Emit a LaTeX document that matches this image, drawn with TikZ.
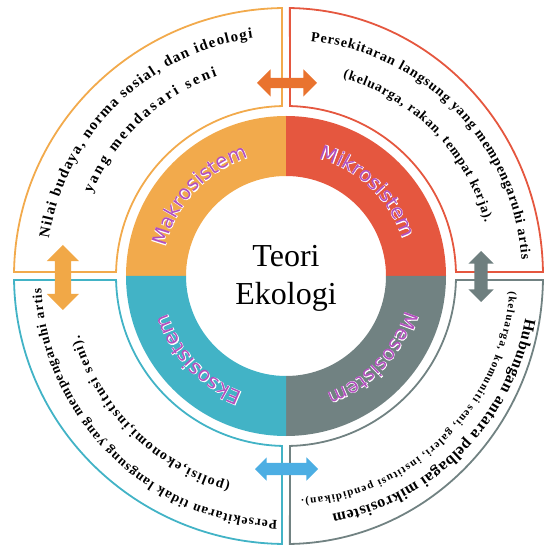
\documentclass[tikz,border=0pt]{standalone}
\usepackage{fontspec}
\setmainfont{Liberation Serif}
\newfontfamily\ringfont{DejaVu Sans}
\newfontfamily\ringglow[FakeBold=4]{DejaVu Sans}
\usepackage{tikz}
\usetikzlibrary{decorations.text, shapes.arrows}
\definecolor{makro}{HTML}{F2AA4C}
\definecolor{mikro}{HTML}{E5573F}
\definecolor{meso}{HTML}{718282}
\definecolor{ekso}{HTML}{42B3C6}
\definecolor{arrtop}{HTML}{E9732F}
\definecolor{arrleft}{HTML}{F1A847}
\definecolor{arrright}{HTML}{6E7F7F}
\definecolor{arrbot}{HTML}{4CAEE3}
\definecolor{labelpurple}{HTML}{B24FBE}
\newcommand{\bigline}[1]{\bfseries\fontsize{#1}{#1}\selectfont}

\begin{document}
\begin{tikzpicture}[x=1pt, y=1pt,
    quadbox/.style={line width=1.8pt},
    twoway/.style={double arrow, inner xsep=0pt, draw=none},
    curved/.style={decorate, decoration={text along path, text align={fit to path}, text={#1}}},
    ringglowlabel/.style={decorate, decoration={text along path, text align=center, text color=white,
        text={|\ringglow\fontsize{20}{20}\selectfont|#1}}},
    ringlabel/.style={decorate, decoration={text along path, text align=center, text color=labelpurple,
        text={|\ringfont\fontsize{20}{20}\selectfont|#1}}}]
    \useasboundingbox (-286,-272) rectangle (258,276);
    % inner ring
    \foreach \a/\col in {90/makro, 0/mikro, -90/meso, 180/ekso}
        \fill[\col] (\a:100) -- (\a:160) arc[start angle=\a, end angle={\a+90}, radius=160]
            -- ({\a+90}:100) arc[start angle={\a+90}, end angle=\a, radius=100] -- cycle;
    \node[font=\fontsize{32}{38}\selectfont, align=center] (teori) at (0,-2) {Teori\\Ekologi};
    % outer quadrants
    \foreach \a/\X/\col in {90/272/makro, 0/257/mikro, -90/257/meso, 180/272/ekso}
        \draw[quadbox, \col] ({\a+1.35}:170) -- ({\a+0.86}:{\X} and 268)
            arc[start angle={\a+0.86}, end angle={\a+89.14}, x radius=\X, y radius=268]
            -- ({\a+88.65}:170) arc[start angle={\a+88.65}, end angle={\a+1.35}, radius=170] -- cycle;
    % ring labels (white rim first)
    \path[ringglowlabel={Makrosistem}] (180:124) arc[start angle=180, end angle=94, radius=124];
    \path[ringlabel={Makrosistem}] (180:124) arc[start angle=180, end angle=94, radius=124];
    \path[ringglowlabel={Mikrosistem}] (91:122) arc[start angle=91, end angle=1, radius=122];
    \path[ringlabel={Mikrosistem}] (91:122) arc[start angle=91, end angle=1, radius=122];
    \path[ringglowlabel={Mesosistem}] (0:124) arc[start angle=0, end angle=-87, radius=124];
    \path[ringlabel={Mesosistem}] (0:124) arc[start angle=0, end angle=-87, radius=124];
    \path[ringglowlabel={Eksosistem}] (-93:124) arc[start angle=-93, end angle=-180, radius=124];
    \path[ringlabel={Eksosistem}] (-93:124) arc[start angle=-93, end angle=-180, radius=124];
    % texts of the quadrants
    \path[curved={|\bigline{15}|Nilai budaya, norma sosial, dan ideologi}] (171:240) arc[start angle=171, end angle=98, radius=240];
    \path[curved={|\bigline{15}|yang mendasari seni}] (157:211) arc[start angle=157, end angle=109, radius=211];
    \path[curved={|\bigline{14}|Persekitaran langsung yang mempengaruhi artis}] (84:236) arc[start angle=84, end angle=4, radius=236];
    \path[curved={|\bigline{13.5}|(keluarga, rakan, tempat kerja).}] (74:206) arc[start angle=74, end angle=15, radius=206];
    \path[curved={|\bigline{16}|Hubungan antara pelbagai mikrosistem}] (-10:243) arc[start angle=-10, end angle=-79, radius=243];
    \path[curved={|\bigline{11}|(keluarga, komuniti seni, galeri, institusi pendidikan).}] (-4:224) arc[start angle=-4, end angle=-86, radius=224];
    \path[curved={|\bigline{13.5}|Persekitaran tidak langsung yang mempengaruhi artis}] (-92:245) arc[start angle=-92, end angle=-177, radius=245];
    \path[curved={|\bigline{14}|(polisi,ekonomi,institusi seni).}] (-105:215) arc[start angle=-105, end angle=-164, radius=215];
    % arrows between the quadrants
    \node[twoway, fill=arrtop, minimum height=60, inner ysep=5, double arrow head extend=8.5] (arrowtop) at (1,193) {};
    \node[twoway, fill=arrleft, minimum height=65, inner ysep=8, double arrow head extend=8, rotate=90] (arrowleft) at (-223,-1.5) {};
    \node[twoway, fill=arrright, minimum height=51, inner ysep=6.5, double arrow head extend=6, rotate=90] (arrowright) at (195,-0.5) {};
    \node[twoway, fill=arrbot, minimum height=63, inner ysep=6, double arrow head extend=5.5] (arrowbot) at (0.5,-193) {};
\end{tikzpicture}
\end{document}
